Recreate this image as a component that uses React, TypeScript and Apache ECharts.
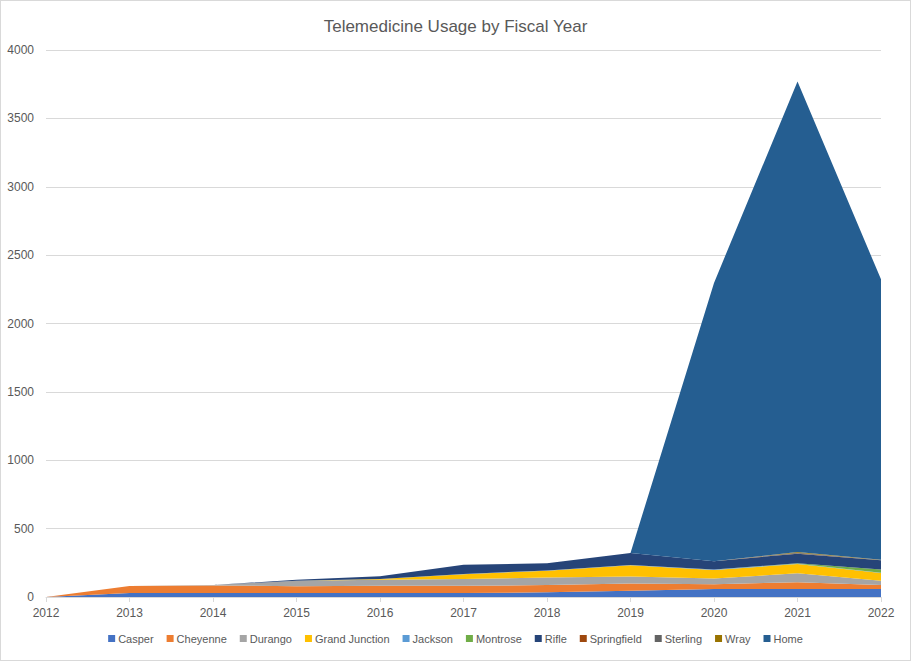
import React, { useEffect, useRef } from 'react';
import * as echarts from 'echarts';

const years = ['2012', '2013', '2014', '2015', '2016', '2017', '2018', '2019', '2020', '2021', '2022'];

const casper = [0, 30, 30, 29, 30, 29, 34, 46, 58, 58, 58];
const cheyenne = [0, 50, 55, 49, 52, 53, 53, 53, 36, 49, 29];
const durango = [0, 0, 3, 41, 45, 49, 56, 51, 41, 66, 32];
const grandJunction = [0, 0, 0, 0, 5, 36, 49, 82, 63, 68, 56];
const jackson = [0, 0, 0, 0, 0, 2, 2, 2, 3, 3, 3];
const montrose = [0, 0, 0, 0, 0, 0, 0, 0, 0, 3, 24];
const rifle = [0, 0, 0, 7, 20, 66, 53, 88, 61, 70, 66];
const springfield = [0, 0, 0, 0, 0, 0, 0, 0, 0, 2, 0];
const sterling = [0, 0, 0, 0, 0, 0, 0, 0, 0, 5, 3];
const wray = [0, 0, 0, 0, 0, 0, 0, 0, 0, 5, 2];
const home = [0, 0, 0, 0, 0, 0, 0, 0, 2035, 3440, 2050];

const seriesNames = ['Casper', 'Cheyenne', 'Durango', 'Grand Junction', 'Jackson', 'Montrose', 'Rifle', 'Springfield', 'Sterling', 'Wray', 'Home'];
const seriesData = [casper, cheyenne, durango, grandJunction, jackson, montrose, rifle, springfield, sterling, wray, home];
const seriesColors = ['#4472C4', '#ED7D31', '#A5A5A5', '#FFC000', '#5B9BD5', '#70AD47', '#264478', '#9E480E', '#636363', '#997300', '#255E91'];

export default function App() {
  const chartRef = useRef<HTMLDivElement>(null);

  useEffect(() => {
    document.body.style.margin = '0';
    if (!chartRef.current) return;
    const chart = echarts.init(chartRef.current, null, { renderer: 'svg' });

    const font = 'Liberation Sans, Arial, sans-serif';

    chart.setOption({
      animation: false,
      backgroundColor: '#ffffff',
      textStyle: { fontFamily: font },
      title: {
        text: 'Telemedicine Usage by Fiscal Year',
        left: 'center',
        top: 12,
        textStyle: { fontSize: 17, fontWeight: 'normal', color: '#595959', fontFamily: font }
      },
      legend: {
        data: seriesNames,
        bottom: 11,
        left: 'center',
        icon: 'rect',
        itemWidth: 7,
        itemHeight: 7,
        itemGap: 13,
        textStyle: { fontSize: 11, color: '#595959', padding: [0, 0, 0, -2] }
      },
      grid: { left: 45, right: 29, top: 49, bottom: 63 },
      xAxis: {
        type: 'category',
        data: years,
        boundaryGap: false,
        axisLine: { lineStyle: { color: '#d9d9d9' } },
        axisTick: { show: true, length: 5, lineStyle: { color: '#d9d9d9' } },
        axisLabel: { color: '#595959', fontSize: 12, margin: 10 }
      },
      yAxis: {
        type: 'value',
        min: 0,
        max: 4000,
        interval: 500,
        axisLine: { show: false },
        axisTick: { show: false },
        axisLabel: { color: '#595959', fontSize: 12, margin: 12, formatter: (v: number) => String(v) },
        splitLine: { lineStyle: { color: '#d9d9d9' } }
      },
      series: seriesNames.map((name, i) => ({
        name,
        type: 'line',
        stack: 'total',
        data: seriesData[i],
        showSymbol: false,
        symbol: 'none',
        color: seriesColors[i],
        lineStyle: { width: 0 },
        areaStyle: { color: seriesColors[i], opacity: 1 }
      }))
    });

    return () => {
      chart.dispose();
    };
  }, []);

  return (
    <div
      ref={chartRef}
      style={{ width: 911, height: 661, border: '1px solid #d9d9d9', boxSizing: 'border-box' }}
    />
  );
}
